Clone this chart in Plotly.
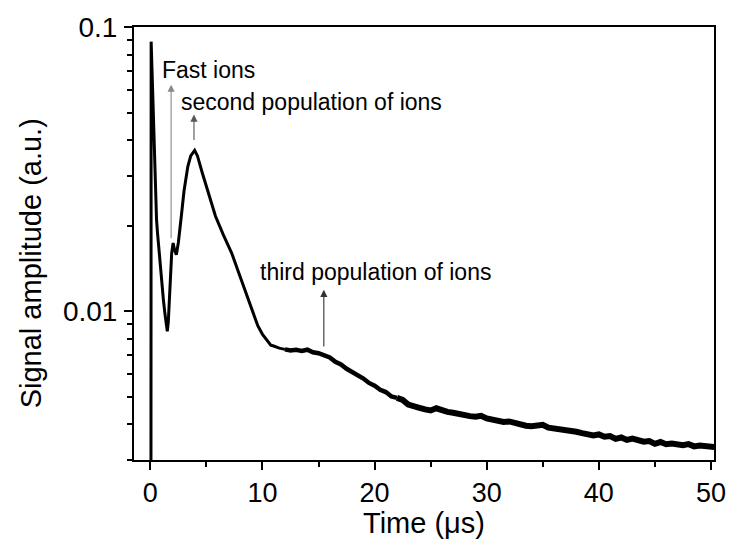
import math
import plotly.graph_objects as go

# ---- data ----
t_early = [0.05, 0.07, 0.15, 0.29, 0.44, 0.55, 0.64, 0.87, 1.0, 1.16, 1.3, 1.42, 1.51, 1.6, 1.74,
           1.9, 2.03, 2.15, 2.32, 2.5, 2.76, 3.0, 3.34, 3.6, 3.95, 4.2, 4.64, 5.2, 5.81, 6.5,
           7.26, 7.84, 8.42, 9.0, 9.58, 10.0, 10.3, 10.74, 11.0, 11.5, 12.0]
s_early = [0.0015, 0.0888, 0.070, 0.0423, 0.0247, 0.021, 0.0188, 0.0144, 0.0125, 0.011, 0.0098,
           0.0088, 0.0085, 0.0092, 0.0126, 0.016, 0.0174, 0.0165, 0.0158, 0.0175, 0.0216, 0.0265,
           0.0323, 0.0352, 0.0368, 0.0352, 0.0306, 0.0258, 0.0216, 0.0186, 0.016, 0.0138, 0.0119,
           0.0104, 0.0089, 0.0083, 0.0080, 0.0076, 0.00755, 0.00742, 0.00735]

t_mid = [12.0, 12.5, 13.0, 13.5, 14.0, 14.5, 15.0, 15.5, 16.0, 16.5, 17.0, 17.5,
         18.0, 18.5, 19.0, 19.5, 20.0, 20.5, 21.0, 21.5, 22.0]
s_mid = [0.00735, 0.00728, 0.00732, 0.00726, 0.00733, 0.00718, 0.00712,
         0.00698, 0.00688, 0.00664, 0.00650, 0.00628, 0.00612, 0.00594, 0.00580, 0.00560,
         0.00548, 0.00530, 0.00520, 0.00502, 0.00496]

t_late = [22.0, 22.5, 23.0, 23.5, 24.0, 24.5,
          25.0, 25.5, 26.0, 26.5, 27.0, 27.5, 28.0, 28.5, 29.0, 29.5, 30.0, 30.5, 31.0, 31.5,
          32.0, 32.5, 33.0, 33.5, 34.0, 34.5, 35.0, 35.5, 36.0, 36.5, 37.0, 37.5, 38.0, 38.5,
          39.0, 39.5, 40.0, 40.5, 41.0, 41.5, 42.0, 42.5, 43.0, 43.5, 44.0, 44.5, 45.0, 45.5,
          46.0, 46.5, 47.0, 47.5, 48.0, 48.5, 49.0, 49.5, 50.0, 50.3]
s_late = [0.00496, 0.00488, 0.00470, 0.00466, 0.00458,
          0.00452, 0.00448, 0.00456, 0.00448, 0.00443, 0.00440, 0.00435, 0.00432, 0.00428,
          0.00426, 0.00429, 0.00420, 0.00416, 0.00413, 0.00408, 0.00410, 0.00404, 0.00400,
          0.00396, 0.00394, 0.00395, 0.00399, 0.00390, 0.00388, 0.00384, 0.00381, 0.00378,
          0.00377, 0.00373, 0.00370, 0.00366, 0.00369, 0.00362, 0.00364, 0.00356, 0.00360,
          0.00353, 0.00357, 0.00354, 0.00348, 0.00350, 0.00342, 0.00347, 0.00341, 0.00343,
          0.00340, 0.00338, 0.00341, 0.00335, 0.00337, 0.00334, 0.00331, 0.00333]

x_ticks = [0, 10, 20, 30, 40, 50]
x_minor = [5, 15, 25, 35, 45]
y_ticks = [0.01, 0.1]
y_ticktext = ["0.01", "0.1"]
y_minor = [0.003, 0.004, 0.005, 0.006, 0.007, 0.008, 0.009,
           0.02, 0.03, 0.04, 0.05, 0.06, 0.07, 0.08, 0.09]

labels = ["Fast ions", "second population of ions", "third population of ions"]
label_x = [0.83, 2.51, 9.6]
label_y = [0.0706, 0.0545, 0.01374]
arrow_x = [1.85, 3.89, 15.47]
arrow_tip = [0.0627, 0.0492, 0.0119]
arrow_tail = [0.01787, 0.0396, 0.00743]
arrow_col = ["#888888", "#555555", "#333333"]

FONT = "Liberation Sans, Arial, sans-serif"

fig = go.Figure()
fig.add_trace(go.Scatter(x=t_early, y=s_early, mode="lines",
                         line=dict(color="black", width=3), showlegend=False))
fig.add_trace(go.Scatter(x=t_mid, y=s_mid, mode="lines",
                         line=dict(color="black", width=4.5), showlegend=False))
fig.add_trace(go.Scatter(x=t_late, y=s_late, mode="lines",
                         line=dict(color="black", width=6), showlegend=False))

for xa, tip, tail, c in zip(arrow_x, arrow_tip, arrow_tail, arrow_col):
    fig.add_annotation(x=xa, y=math.log10(tip), ax=xa, ay=math.log10(tail),
                       xref="x", yref="y", axref="x", ayref="y",
                       text="", showarrow=True, arrowhead=2, arrowsize=1.3, arrowwidth=1.1,
                       arrowcolor=c, standoff=0, startstandoff=0)
for txt, lx, ly in zip(labels, label_x, label_y):
    fig.add_annotation(x=lx, y=math.log10(ly), xref="x", yref="y", text=txt, showarrow=False,
                       xanchor="left", yanchor="middle", font=dict(family=FONT, size=23, color="black"))

fig.add_annotation(x=0.5, y=-0.145, xref="paper", yref="paper", text="Time (\u03bcs)",
                   showarrow=False, xanchor="center", yanchor="middle",
                   font=dict(family=FONT, size=29, color="black"))
fig.add_annotation(x=-0.177, y=0.455, xref="paper", yref="paper", text="Signal amplitude (a.u.)",
                   textangle=-90, showarrow=False, xanchor="center", yanchor="middle",
                   font=dict(family=FONT, size=29, color="black"))

fig.update_layout(
    width=738, height=547,
    margin=dict(l=134, r=13, t=27, b=87),
    paper_bgcolor="white", plot_bgcolor="white",
    font=dict(family=FONT, size=27, color="black"),
    xaxis=dict(range=[-1.46, 50.27], tickvals=x_ticks, ticks="outside", ticklen=8, tickwidth=1.5,
               tickcolor="black", showline=True, linecolor="black", linewidth=2, mirror=True,
               showgrid=False, zeroline=False, ticklabelstandoff=0,
               tickfont=dict(family=FONT, size=27, color="black"),
               minor=dict(tickvals=x_minor, ticks="outside", ticklen=5, tickwidth=1.5,
                          tickcolor="black", showgrid=False)),
    yaxis=dict(type="log", range=[math.log10(0.003), -1], tickvals=y_ticks, ticktext=y_ticktext,
               ticks="outside", ticklen=8, tickwidth=1.5, tickcolor="black", showline=True,
               linecolor="black", linewidth=2, mirror=True, showgrid=False, zeroline=False,
               ticklabelstandoff=1, tickfont=dict(family=FONT, size=28, color="black"),
               minor=dict(tickvals=y_minor, ticks="outside", ticklen=5, tickwidth=1.5,
                          tickcolor="black", showgrid=False)),
)

fig.write_html("out.html")
